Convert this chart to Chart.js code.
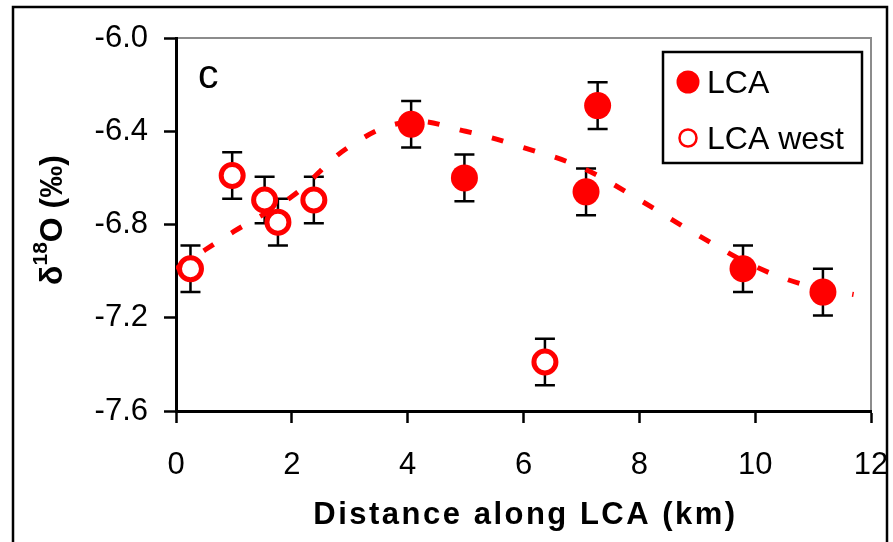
<!DOCTYPE html>
<html>
<head>
<meta charset="utf-8">
<script src="https://cdn.jsdelivr.net/npm/chart.js@4.4.0/dist/chart.umd.min.js"></script>
<style>
  html, body { margin: 0; padding: 0; background: #fff; }
  #wrap { position: relative; width: 893px; height: 542px; }
</style>
</head>
<body>
<div id="wrap"><canvas id="chart"></canvas></div>
<script>
// LCA west (open circles)
const westX = [0.25, 0.97, 1.53, 1.76, 2.38, 6.37];
const westY = [-6.99, -6.59, -6.695, -6.79, -6.695, -7.39];
const westErr = [0.1, 0.1, 0.1, 0.1, 0.1, 0.1];

// LCA (filled circles)
const lcaX = [4.06, 4.98, 7.08, 7.28, 9.79, 11.17];
const lcaY = [-6.37, -6.60, -6.66, -6.29, -6.99, -7.09];
const lcaErr = [0.1, 0.1, 0.1, 0.1, 0.1, 0.1];

// dashed trend curve
const trendX = [0, 1, 2, 3, 4, 5, 6, 7, 8, 9, 10, 11, 11.7];
const trendY = [-6.99, -6.83, -6.68, -6.465, -6.36, -6.40, -6.47, -6.556, -6.694, -6.844, -6.98, -7.07, -7.10];

const xTicks = [0, 2, 4, 6, 8, 10, 12];
const yTicks = [-6.0, -6.4, -6.8, -7.2, -7.6];

const FONT = '"Liberation Sans", Arial, sans-serif';
const toPts = (xs, ys) => xs.map((x, i) => ({ x: x, y: ys[i] }));

// error bars, drawn under the markers
const errorBars = {
  id: 'errorBars',
  beforeDatasetsDraw(chart) {
    const ctx = chart.ctx;
    const xs = chart.scales.x, ys = chart.scales.y;
    const groups = [[westX, westY, westErr], [lcaX, lcaY, lcaErr]];
    ctx.save();
    ctx.strokeStyle = '#000';
    ctx.lineWidth = 2.5;
    groups.forEach(([gx, gy, ge]) => {
      gx.forEach((x, i) => {
        const px = xs.getPixelForValue(x);
        const top = ys.getPixelForValue(gy[i] + ge[i]);
        const bot = ys.getPixelForValue(gy[i] - ge[i]);
        ctx.beginPath();
        ctx.moveTo(px, top); ctx.lineTo(px, bot);
        ctx.moveTo(px - 10, top); ctx.lineTo(px + 10, top);
        ctx.moveTo(px - 10, bot); ctx.lineTo(px + 10, bot);
        ctx.stroke();
      });
    });
    ctx.restore();
  }
};

// frame, panel letter, axis titles and legend box
const decor = {
  id: 'decor',
  beforeDraw(chart) {
    const ctx = chart.ctx;
    const a = chart.chartArea;
    ctx.save();
    ctx.fillStyle = '#fff';
    ctx.fillRect(0, 0, chart.width, chart.height);
    // grey top/right plot border
    ctx.strokeStyle = '#8c8c8c';
    ctx.lineWidth = 2;
    ctx.beginPath();
    ctx.moveTo(a.left, a.top); ctx.lineTo(a.right, a.top); ctx.lineTo(a.right, a.bottom);
    ctx.stroke();
    ctx.restore();
  },
  afterDraw(chart) {
    const ctx = chart.ctx;
    const a = chart.chartArea;
    ctx.save();
    // outer figure frame
    ctx.strokeStyle = '#000';
    ctx.lineWidth = 2.5;
    ctx.strokeRect(13, 7, 874, 545);

    // panel letter
    ctx.fillStyle = '#000';
    ctx.font = '41px ' + FONT;
    ctx.textBaseline = 'alphabetic';
    ctx.fillText('c', 198, 88);

    // x axis title (slightly spaced like the original)
    ctx.font = 'bold 31px ' + FONT;
    ctx.letterSpacing = '2.5px';
    ctx.textAlign = 'center';
    ctx.fillText('Distance along LCA (km)', (a.left + a.right) / 2 + 2, 524);
    ctx.letterSpacing = '0px';
    ctx.textAlign = 'left';

    // y axis title with superscript
    ctx.translate(51, 220);
    ctx.rotate(-Math.PI / 2);
    const big = 'bold 32px ' + FONT;
    const small = 'bold 21px ' + FONT;
    const parts = [['δ', big, 0], ['18', small, -12], ['O (‰)', big, 0]];
    let total = 0;
    parts.forEach(p => { ctx.font = p[1]; total += ctx.measureText(p[0]).width; });
    let cx = -total / 2;
    ctx.textBaseline = 'middle';
    parts.forEach(p => {
      ctx.font = p[1];
      ctx.fillText(p[0], cx, 2 + p[2]);
      cx += ctx.measureText(p[0]).width;
    });
    ctx.restore();

    // legend
    ctx.save();
    ctx.fillStyle = '#fff';
    ctx.fillRect(663, 52, 199, 111);
    ctx.strokeStyle = '#000';
    ctx.lineWidth = 2.5;
    ctx.strokeRect(663, 52, 199, 111);
    ctx.fillStyle = 'red';
    ctx.beginPath(); ctx.arc(688, 82, 11.5, 0, Math.PI * 2); ctx.fill();
    ctx.strokeStyle = 'red';
    ctx.lineWidth = 2.5;
    ctx.beginPath(); ctx.arc(688, 138, 8.5, 0, Math.PI * 2); ctx.stroke();
    ctx.fillStyle = '#000';
    ctx.font = '32px ' + FONT;
    ctx.textBaseline = 'alphabetic';
    ctx.fillText('LCA', 707, 93);
    ctx.fillText('LCA west', 707, 149);
    ctx.restore();
  }
};

new Chart(document.getElementById('chart'), {
  type: 'scatter',
  data: {
    datasets: [
      {
        label: 'trend',
        type: 'line',
        data: toPts(trendX, trendY),
        borderColor: 'red',
        borderWidth: 5,
        borderDash: [12, 21],
        pointRadius: 0,
        tension: 0.4,
        fill: false,
        order: 3,
      },
      {
        label: 'LCA',
        data: toPts(lcaX, lcaY),
        pointStyle: 'circle',
        pointRadius: 13.5,
        backgroundColor: 'red',
        borderColor: 'red',
        borderWidth: 0,
        order: 2,
      },
      {
        label: 'LCA west',
        data: toPts(westX, westY),
        pointStyle: 'circle',
        pointRadius: 11,
        backgroundColor: '#fff',
        borderColor: 'red',
        borderWidth: 5,
        order: 1,
      },
    ],
  },
  options: {
    responsive: true,
    maintainAspectRatio: false,
    animation: false,
    layout: { padding: { left: 0, top: 38, right: 22, bottom: 0 } },
    plugins: {
      legend: { display: false },
      tooltip: { enabled: false },
    },
    scales: {
      x: {
        type: 'linear',
        min: 0,
        max: 12,
        afterFit: (s) => { s.height = 131; s.paddingLeft = 0; s.paddingRight = 0; },
        afterBuildTicks: (s) => { s.ticks = xTicks.map(v => ({ value: v })); },
        grid: { drawOnChartArea: false, drawTicks: true, tickLength: 12, tickWidth: 2.5, tickColor: '#000' },
        border: { display: true, color: '#000', width: 3 },
        ticks: {
          color: '#000',
          padding: 24,
          font: { family: FONT, size: 31 },
          callback: (v) => v,
        },
      },
      y: {
        type: 'linear',
        min: -7.6,
        max: -6.0,
        afterFit: (s) => { s.width = 176; },
        afterBuildTicks: (s) => { s.ticks = yTicks.map(v => ({ value: v })); },
        grid: { drawOnChartArea: false, drawTicks: true, tickLength: 12, tickWidth: 2.5, tickColor: '#000' },
        border: { display: true, color: '#000', width: 3 },
        ticks: {
          color: '#000',
          padding: 16,
          font: { family: FONT, size: 31 },
          callback: (v) => v.toFixed(1),
        },
      },
    },
  },
  plugins: [decor, errorBars],
});
</script>
</body>
</html>
